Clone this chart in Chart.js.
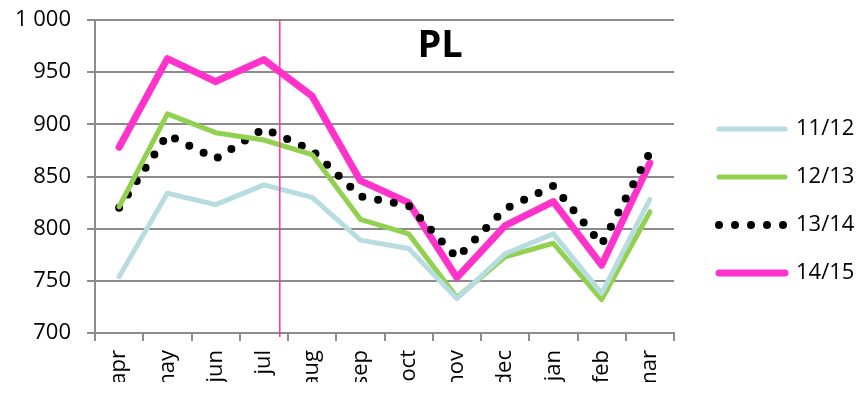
<!DOCTYPE html>
<html>
<head>
<meta charset="utf-8">
<script src="https://cdn.jsdelivr.net/npm/chart.js@4/dist/chart.umd.min.js"></script>
<style>
  html, body { margin: 0; padding: 0; background: #fff; }
  #wrap { width: 860px; height: 395px; }
</style>
</head>
<body>
<div id="wrap"><canvas id="plChart"></canvas></div>
<script>
// Месяцы сезона и значения по сезонам
const months = ['apr', 'may', 'jun', 'jul', 'aug', 'sep', 'oct', 'nov', 'dec', 'jan', 'feb', 'mar'];
const season1112 = [754, 834, 823, 842, 830, 789, 781, 733, 776, 795, 738, 828];
const season1213 = [821, 910, 892, 885, 871, 809, 795, 734, 773, 786, 732, 816];
const season1314 = [820, 890, 867, 896, 875, 831, 822, 772, 819, 841, 785, 873];
const season1415 = [878, 963, 941, 962, 927, 846, 825, 753, 803, 826, 765, 863];
const seasonNames = ['11/12', '12/13', '13/14', '14/15'];
const yTicks = [700, 750, 800, 850, 900, 950, 1000];
const chartTitle = 'PL';
// положение вертикальной отметки (в индексах месяцев)
const markerPos = 3.33;

const FONT = '"Open Sans", "DejaVu Sans", sans-serif';
const GRID = '#8c8c8c';

// Вертикальная линия-отметка
const markerPlugin = {
    id: 'seasonMarker',
    afterDatasetsDraw(chart) {
        const { ctx, chartArea, scales } = chart;
        const px = scales.x.getPixelForValue(markerPos);
        ctx.save();
        ctx.strokeStyle = '#ff3399';
        ctx.lineWidth = 1.5;
        ctx.beginPath();
        ctx.moveTo(px, chartArea.top);
        ctx.lineTo(px, chartArea.bottom + 4);
        ctx.stroke();
        ctx.restore();
    }
};

// Заголовок внутри области графика
const innerTitle = {
    id: 'innerTitle',
    afterDraw(chart) {
        const { ctx, chartArea } = chart;
        ctx.save();
        ctx.font = 'bold 38px ' + FONT;
        ctx.fillStyle = '#000';
        ctx.textAlign = 'center';
        ctx.textBaseline = 'alphabetic';
        ctx.fillText(chartTitle, chartArea.left + chartArea.width * 0.596, chartArea.top + 37);
        ctx.restore();
    }
};

const ctx = document.getElementById('plChart').getContext('2d');

new Chart(ctx, {
    type: 'line',
    data: {
        labels: months,
        datasets: [
            {
                label: seasonNames[0],
                data: season1112,
                borderColor: '#b7dde0',
                backgroundColor: '#b7dde0',
                borderWidth: 5,
                borderJoinStyle: 'round',
                borderCapStyle: 'round'
            },
            {
                label: seasonNames[1],
                data: season1213,
                borderColor: '#92d050',
                backgroundColor: '#92d050',
                borderWidth: 5,
                borderJoinStyle: 'round',
                borderCapStyle: 'round'
            },
            {
                label: seasonNames[2],
                data: season1314,
                borderColor: '#000000',
                backgroundColor: '#000000',
                borderWidth: 8,
                borderDash: [0, 16],
                borderCapStyle: 'round'
            },
            {
                label: seasonNames[3],
                data: season1415,
                borderColor: '#ff33cc',
                backgroundColor: '#ff33cc',
                borderWidth: 7,
                borderJoinStyle: 'round',
                borderCapStyle: 'round'
            }
        ]
    },
    options: {
        responsive: true,
        maintainAspectRatio: false,
        animation: false,
        elements: {
            point: { radius: 0, hoverRadius: 0 },
            line: { tension: 0 }
        },
        layout: {
            padding: { left: 0, right: 0, top: 20, bottom: 13 }
        },
        plugins: {
            tooltip: { enabled: false },
            legend: {
                position: 'right',
                maxWidth: 167,
                labels: {
                    usePointStyle: true,
                    pointStyle: 'line',
                    pointStyleWidth: 66,
                    padding: 26,
                    color: '#000',
                    font: { family: FONT, size: 22 },
                    // штрих и концы линий берём из самих наборов данных
                    generateLabels(chart) {
                        const items = Chart.defaults.plugins.legend.labels.generateLabels(chart);
                        items.forEach(item => {
                            const ds = chart.data.datasets[item.datasetIndex];
                            item.lineDash = ds.borderDash || [];
                            item.lineCap = ds.borderCapStyle || 'butt';
                            item.lineWidth = ds.borderWidth;
                            item.strokeStyle = ds.borderColor;
                            item.pointStyle = 'line';
                        });
                        return items;
                    }
                }
            }
        },
        scales: {
            x: {
                offset: true,
                grid: {
                    offset: true,
                    drawOnChartArea: false,
                    drawTicks: true,
                    tickLength: 8,
                    color: GRID,
                    lineWidth: 2
                },
                border: { color: GRID, width: 2 },
                ticks: {
                    autoSkip: false,
                    minRotation: 90,
                    maxRotation: 90,
                    padding: 9,
                    color: '#000',
                    font: { family: FONT, size: 22 }
                },
                afterFit(scale) { scale.height = 49; }
            },
            y: {
                min: yTicks[0],
                max: yTicks[yTicks.length - 1],
                afterBuildTicks(scale) {
                    scale.ticks = yTicks.map(v => ({ value: v }));
                },
                grid: {
                    color: GRID,
                    lineWidth: 2,
                    tickLength: 8
                },
                border: { color: GRID, width: 2 },
                ticks: {
                    padding: 16,
                    color: '#000',
                    font: { family: FONT, size: 22 },
                    callback: function(value) {
                        return value >= 1000 ? String(value).replace(/\B(?=(\d{3})+(?!\d))/g, ' ') : value;
                    }
                },
                afterFit(scale) {
                    scale.width = 95;
                    scale.paddingTop = 10;
                    scale.paddingBottom = 10;
                }
            },
            // пустая ось справа: отступ между графиком и легендой
            gap: {
                type: 'linear',
                position: 'right',
                display: true,
                grid: { display: false, drawTicks: false },
                border: { display: false },
                ticks: { display: false },
                afterFit(scale) { scale.width = 19; }
            }
        }
    },
    plugins: [markerPlugin, innerTitle]
});
</script>
</body>
</html>
